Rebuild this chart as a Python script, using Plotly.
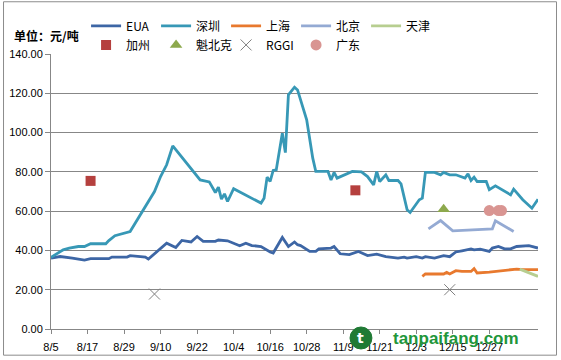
import plotly.graph_objects as go

# ---- x axis: days counted from 8/5 ----
tick_labels = ["8/5", "8/17", "8/29", "9/10", "9/22", "10/4", "10/16",
               "10/28", "11/9", "11/21", "12/3", "12/15", "12/27"]
tick_step_days = 12

# ---- series (day offset, price in 元/吨) ----
eua_days = [0, 3, 7, 11, 13, 19, 20, 25, 26, 31, 32, 36, 38, 41, 43, 46, 48, 50, 54, 55,
            58, 62, 64, 66, 69, 72, 73, 76, 78, 80, 81, 82, 85, 87, 88, 92, 93, 95, 98, 101,
            104, 107, 110, 114, 116, 117, 120, 122, 123, 126, 129, 131, 133, 135, 138, 139,
            141, 144, 145, 147, 149, 151, 153, 157, 160]
eua_vals = [36.1, 36.9, 36.1, 35.1, 35.8, 35.8, 36.6, 36.6, 37.3, 36.6, 35.6, 41.2, 43.7, 41.5,
            45.1, 44.3, 47.1, 44.6, 44.6, 45.3, 44.9, 42.4, 43.7, 42.5, 42.0, 39.2, 38.7, 46.6,
            42.0, 44.3, 42.9, 42.5, 39.5, 39.5, 40.8, 41.2, 42.0, 38.3, 37.9, 39.5, 37.4, 38.1,
            36.9, 36.1, 36.6, 36.1, 36.8, 36.1, 36.8, 36.1, 37.3, 36.8, 39.2, 39.8, 40.8, 40.3,
            40.7, 39.5, 41.2, 42.0, 40.8, 40.8, 42.0, 42.4, 41.2]

sz_days = [0, 4, 6, 9, 11, 13, 18, 19, 21, 23, 26, 27, 29, 31, 34, 36, 38, 40, 44, 46, 49,
           52, 54, 55, 56, 57, 58, 60, 69, 70, 71, 72, 73, 74, 76, 77, 78, 80, 81, 84, 86, 87,
           91, 92, 93, 94, 99, 102, 104, 106, 107, 108, 110, 111, 114, 115, 117, 118, 121,
           122, 123, 126, 128, 129, 131, 133, 136, 137, 138, 139, 140, 143, 144, 146, 149,
           151, 152, 153, 155, 158, 160]
sz_vals = [36.5, 40.3, 41.2, 42.0, 42.0, 43.4, 43.4, 45.0, 47.5, 48.3, 49.6, 52.2, 57.3, 62.4,
           70.0, 77.6, 83.6, 93.2, 85.3, 81.9, 75.9, 74.9, 69.5, 72.2, 66.1, 68.8, 64.9, 71.4,
           64.1, 66.6, 77.3, 75.1, 80.7, 81.0, 99.7, 89.8, 119.2, 123.1, 121.7, 106.5, 87.0,
           80.2, 80.2, 75.9, 79.7, 76.8, 80.2, 80.0, 77.6, 73.4, 80.2, 75.1, 78.5, 75.6, 75.6,
           73.9, 60.7, 59.3, 65.8, 66.6, 79.7, 79.7, 78.5, 79.7, 78.5, 78.5, 76.8, 79.0, 75.6,
           77.3, 75.1, 75.1, 70.9, 72.9, 70.0, 68.3, 71.2, 69.2, 65.8, 61.5, 66.1]

sh_days = [122, 123, 129, 130, 131, 133, 135, 138, 139, 140, 144, 149, 153, 155, 160]
sh_vals = [26.8, 28.0, 28.0, 28.8, 28.0, 29.7, 29.3, 29.3, 30.7, 28.5, 29.0, 29.8, 30.5, 30.2, 30.2]

bj_days = [124, 128, 132, 145, 146, 152]
bj_vals = [51.0, 55.2, 50.0, 51.0, 55.1, 49.6]

tj_days = [154, 157, 160]
tj_vals = [30.5, 28.8, 26.8]

ca_days = [13, 100]
ca_vals = [75.4, 70.6]

qc_days = [129]
qc_vals = [61.0]

rggi_days = [34, 131]
rggi_vals = [17.8, 20.0]

gd_days = [144, 147, 148]
gd_vals = [60.3, 60.3, 60.3]

CJK = "Noto Sans CJK SC"
LAT = "Liberation Sans"

fig = go.Figure()

line_series = [
    ("EUA", eua_days, eua_vals, "#3D66A5"),
    ("深圳", sz_days, sz_vals, "#3798B6"),
    ("上海", sh_days, sh_vals, "#E8792E"),
    ("北京", bj_days, bj_vals, "#94AAD3"),
    ("天津", tj_days, tj_vals, "#B7CE90"),
]
for name, xs, ys, col in line_series:
    fig.add_trace(go.Scatter(x=xs, y=ys, name=name, mode="lines",
                             line=dict(color=col, width=2.8), legend="legend"))

marker_series = [
    ("加州", ca_days, ca_vals, dict(symbol="square", size=10, color="#B5403E")),
    ("魁北克", qc_days, qc_vals, dict(symbol="triangle-up", size=11, color="#8DA94D")),
    ("RGGI", rggi_days, rggi_vals, dict(symbol="x-thin-open", size=11, color="#808080",
                                         line=dict(color="#808080", width=1))),
    ("广东", gd_days, gd_vals, dict(symbol="circle", size=11, color="#D99592")),
]
for name, xs, ys, mk in marker_series:
    fig.add_trace(go.Scatter(x=xs, y=ys, name=name, mode="markers", marker=mk,
                             legend="legend2"))

grid_col = "#878787"
fig.update_xaxes(
    range=[0, 160], tickmode="array", automargin=False,
    tickvals=[i * tick_step_days for i in range(len(tick_labels))],
    ticktext=tick_labels, showgrid=False, zeroline=False,
    showline=True, linecolor=grid_col, linewidth=1,
    ticks="outside", ticklen=4, tickcolor=grid_col, ticklabelstandoff=4,
    tickfont=dict(family=LAT, size=11, color="#000000"),
)
fig.update_yaxes(
    range=[0, 140], dtick=20, tickformat=".2f", automargin=False,
    showgrid=True, gridcolor=grid_col, gridwidth=1, zeroline=False,
    showline=True, linecolor=grid_col, linewidth=1,
    ticks="outside", ticklen=5, tickcolor=grid_col,
    tickfont=dict(family=LAT, size=11, color="#000000"),
)

legend_common = dict(orientation="h", xanchor="left", yanchor="middle",
                     entrywidth=25, entrywidthmode="pixels",
                     bgcolor="rgba(0,0,0,0)", borderwidth=0,
                     font=dict(family=CJK, size=12, color="#000000"),
                     tracegroupgap=0, itemclick=False, itemdoubleclick=False)

fig.update_layout(
    width=561, height=360,
    margin=dict(l=51, r=23, t=54, b=31, autoexpand=False),
    paper_bgcolor="white", plot_bgcolor="white",
    showlegend=True,
    legend=dict(x=0.072, y=1.102, **legend_common),
    legend2=dict(x=0.072, y=1.033, **legend_common),
    annotations=[
        dict(text="<b>单位：元/吨</b>", xref="paper", yref="paper",
             x=-0.08, y=1.069, xanchor="left", yanchor="middle", showarrow=False,
             font=dict(family=CJK, size=12, color="#000000")),
        dict(text="<b>tanpaifang.com</b>", xref="paper", yref="paper",
             x=0.698, y=-0.033, xanchor="left", yanchor="middle", showarrow=False,
             font=dict(family=LAT, size=17, color="#21963A")),
        dict(text="<b>t</b>", xref="paper", yref="paper",
             x=0.6365, y=-0.033, xanchor="center", yanchor="middle", showarrow=False,
             font=dict(family="DejaVu Sans", size=14, color="#FFFFFF")),
    ],
    shapes=[
        dict(type="rect", xref="paper", yref="paper",
             x0=-0.0975, x1=1.038, y0=-0.0952, y1=1.19,
             line=dict(color="#8C8C8C", width=1), fillcolor="rgba(0,0,0,0)", layer="below"),
        dict(type="circle", xref="paper", yref="paper",
             x0=0.614, x1=0.659, y0=-0.0727, y1=0.0073,
             line=dict(color="#1F7A34", width=1), fillcolor="#1F7A34"),
    ],
)

fig.write_html("out.html", config={"displayModeBar": False},
               post_script="document.body.style.margin='0px';document.body.style.overflow='hidden';")
